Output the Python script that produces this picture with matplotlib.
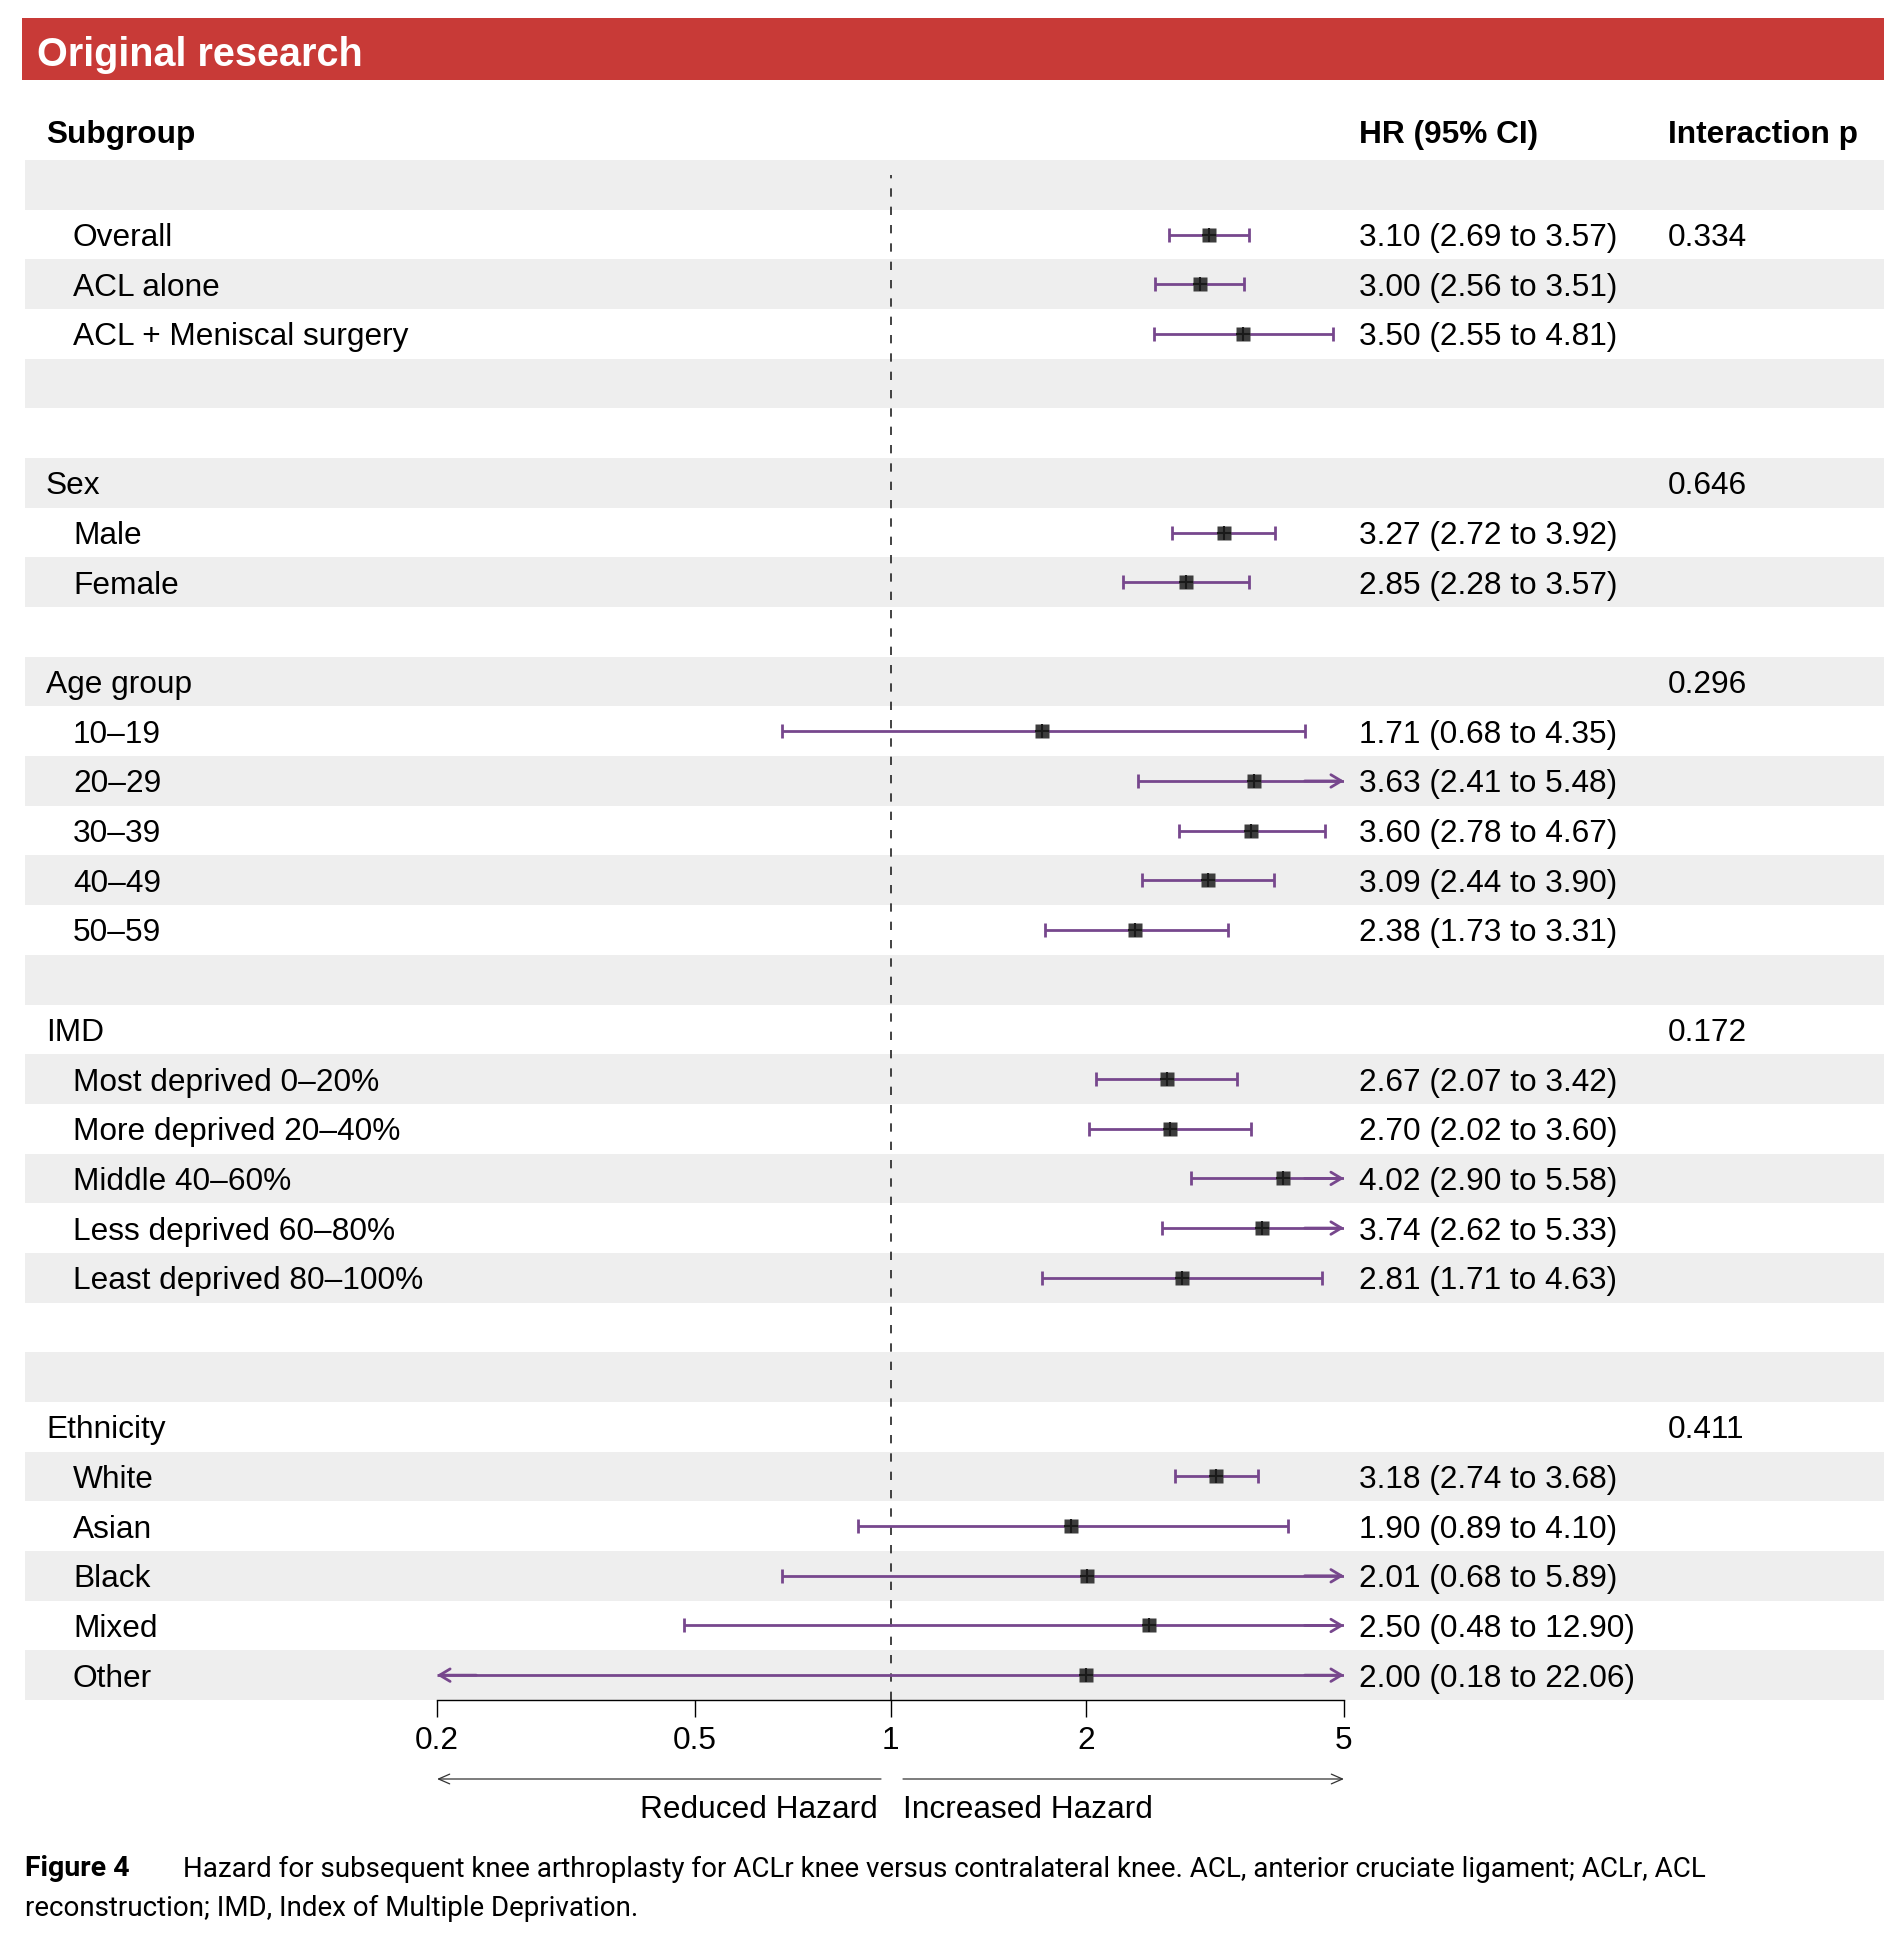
import numpy as np
import matplotlib
matplotlib.use("Agg")
import matplotlib.pyplot as plt
from matplotlib.patches import Rectangle

plt.rcParams['font.family'] = ['Liberation Sans', 'DejaVu Sans']

# rows of the forest plot ("" = blank row)
labels = ["", "Overall", "ACL alone", "ACL + Meniscal surgery", "", "",
          "Sex", "Male", "Female", "",
          "Age group", "10\u201319", "20\u201329", "30\u201339", "40\u201349", "50\u201359", "",
          "IMD", "Most deprived 0\u201320%", "More deprived 20\u201340%", "Middle 40\u201360%",
          "Less deprived 60\u201380%", "Least deprived 80\u2013100%", "", "",
          "Ethnicity", "White", "Asian", "Black", "Mixed", "Other"]
is_group = [False, False, False, False, False, False,
            True, False, False, False,
            True, False, False, False, False, False, False,
            True, False, False, False, False, False, False, False,
            True, False, False, False, False, False]
hr = [None, 3.10, 3.00, 3.50, None, None,
      None, 3.27, 2.85, None,
      None, 1.71, 3.63, 3.60, 3.09, 2.38, None,
      None, 2.67, 2.70, 4.02, 3.74, 2.81, None, None,
      None, 3.18, 1.90, 2.01, 2.50, 2.00]
lo = [None, 2.69, 2.56, 2.55, None, None,
      None, 2.72, 2.28, None,
      None, 0.68, 2.41, 2.78, 2.44, 1.73, None,
      None, 2.07, 2.02, 2.90, 2.62, 1.71, None, None,
      None, 2.74, 0.89, 0.68, 0.48, 0.18]
hi = [None, 3.57, 3.51, 4.81, None, None,
      None, 3.92, 3.57, None,
      None, 4.35, 5.48, 4.67, 3.90, 3.31, None,
      None, 3.42, 3.60, 5.58, 5.33, 4.63, None, None,
      None, 3.68, 4.10, 5.89, 12.90, 22.06]
p_int = {1: "0.334", 6: "0.646", 10: "0.296", 17: "0.172", 25: "0.411"}
ticks = [0.2, 0.5, 1, 2, 5]
tick_labels = ["0.2", "0.5", "1", "2", "5"]

XMIN, XMAX = 0.2, 5
PURPLE = "#77478d"
FS = 22.8

W, H = 1894, 1938
fig = plt.figure(figsize=(W / 100, H / 100), dpi=100)


def fx(px):
    return px / W


def fy(py):
    return 1 - py / H


n = len(labels)
top, bot = 160, 1700
x0, x1 = 437, 1344   # pixel span of the log axis (0.2 .. 5)

# banner
fig.add_artist(Rectangle((fx(22), fy(80)), fx(1884) - fx(22), (80 - 18) / H,
                         transform=fig.transFigure, color="#c83a37", lw=0))
fig.text(fx(37), fy(51), "Original research", color="white", fontsize=28.5,
         fontweight="bold", va="center_baseline")

# header
fig.text(fx(46), fy(132), "Subgroup", fontsize=FS, fontweight="bold", va="center_baseline")
fig.text(fx(1359), fy(132), "HR (95% CI)", fontsize=FS, fontweight="bold", va="center_baseline")
fig.text(fx(1668), fy(132), "Interaction p", fontsize=FS, fontweight="bold", va="center_baseline")

# background with shading and text columns
bg = fig.add_axes([0, fy(bot), 1, (bot - top) / H])
bg.set_xlim(0, W)
bg.set_ylim(n - 0.5, -0.5)
bg.axis("off")
for i in range(0, n, 2):
    bg.axhspan(i - 0.5, i + 0.5, xmin=25 / W, xmax=1884 / W, color="#eeeeee", lw=0)

for i, lab in enumerate(labels):
    if lab:
        bg.text(46 if is_group[i] else 73, i, lab, fontsize=FS, va="center_baseline")
    if hr[i] is not None:
        bg.text(1359, i, f"{hr[i]:.2f} ({lo[i]:.2f} to {hi[i]:.2f})", fontsize=FS,
                va="center_baseline")
    if i in p_int:
        bg.text(1668, i, p_int[i], fontsize=FS, va="center_baseline")

# forest axes
ax = fig.add_axes([fx(x0), fy(bot), fx(x1) - fx(x0), (bot - top) / H])
ax.set_xscale("log")
ax.set_xlim(XMIN, XMAX)
ax.set_ylim(n - 0.5, -0.5)
ax.patch.set_alpha(0)
for s in ["top", "left", "right"]:
    ax.spines[s].set_visible(False)
ax.spines["bottom"].set_linewidth(1.0)
ax.set_yticks([])
ax.set_xticks(ticks)
ax.set_xticklabels(tick_labels, fontsize=FS)
ax.minorticks_off()
ax.tick_params(axis="x", length=12, width=1.0, pad=7)

ax.axvline(1, ymin=0, ymax=(bot - 175) / (bot - top), color="#222222", lw=1.2,
           dashes=(5, 6))

arrow_kw = dict(arrowstyle="->,head_length=0.75,head_width=0.45", color=PURPLE, lw=2.0,
                shrinkA=0, shrinkB=0)
for i in range(n):
    if hr[i] is None:
        continue
    a = max(lo[i], XMIN)
    b = min(hi[i], XMAX)
    ax.plot([a, b], [i, i], color=PURPLE, lw=2.0, solid_capstyle="butt", zorder=2)
    if lo[i] >= XMIN:
        ax.plot([a], [i], marker="|", ms=10, mew=2.0, color=PURPLE, zorder=2)
    else:
        ax.annotate("", xy=(XMIN, i), xytext=(XMIN * 1.15, i), arrowprops=arrow_kw,
                    annotation_clip=False)
    if hi[i] <= XMAX:
        ax.plot([b], [i], marker="|", ms=10, mew=2.0, color=PURPLE, zorder=2)
    else:
        ax.annotate("", xy=(XMAX, i), xytext=(XMAX / 1.15, i), arrowprops=arrow_kw,
                    annotation_clip=False)
    ax.plot([hr[i]], [i], marker="s", ms=10.5, color="#3d3d3d", mec="none", zorder=3)
    ax.plot([hr[i]], [i], marker="+", ms=10, mew=1.5, color="#1a1a1a", zorder=4)

# direction arrows below axis
span = x1 - x0
ya = (bot - 1779) / (bot - top)
yt = (bot - 1806) / (bot - top)
thin = dict(arrowstyle="->,head_length=0.8,head_width=0.35", color="#333333", lw=0.9,
            shrinkA=0, shrinkB=0)
ax.annotate("", xy=(0, ya), xytext=((881 - x0) / span, ya), xycoords="axes fraction",
            arrowprops=thin, annotation_clip=False)
ax.annotate("", xy=(1, ya), xytext=((903 - x0) / span, ya), xycoords="axes fraction",
            arrowprops=thin, annotation_clip=False)
ax.text((878 - x0) / span, yt, "Reduced Hazard", transform=ax.transAxes, ha="right",
        va="center_baseline", fontsize=FS)
ax.text((903 - x0) / span, yt, "Increased Hazard", transform=ax.transAxes, ha="left",
        va="center_baseline", fontsize=FS)

# caption
cap_font = ["Roboto", "Liberation Sans"]
fig.text(fx(25), fy(1866), "Figure 4", fontsize=20.5, fontweight="bold",
         va="center_baseline", family=cap_font)
fig.text(fx(183), fy(1866), "Hazard for subsequent knee arthroplasty for ACLr knee versus "
         "contralateral knee. ACL, anterior cruciate ligament; ACLr, ACL",
         fontsize=20, va="center_baseline", family=cap_font)
fig.text(fx(25), fy(1905), "reconstruction; IMD, Index of Multiple Deprivation.",
         fontsize=20, va="center_baseline", family=cap_font)

fig.savefig("out.png", dpi=100, facecolor="white")
